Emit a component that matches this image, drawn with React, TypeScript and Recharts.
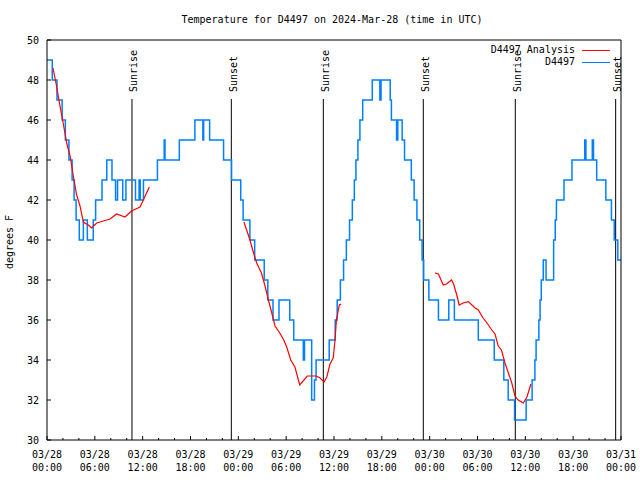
import React from 'react'
import { LineChart, Line, XAxis, YAxis, ReferenceLine } from 'recharts'

const FONT = '"DejaVu Sans Mono", "Liberation Mono", monospace'
const BLUE = '#0080ff'
const RED = '#ff0000'

// hours since 03/28 00:00 UTC, temperature in deg F
// observed readings (1 F resolution), listed where the value changes
const observed: [number, number][] = [
  [0, 49], [0.66, 48], [1.25, 47], [1.9, 46], [2.3, 45], [2.75, 44], [3.15, 43], [3.4, 42],
  [3.65, 41], [4.05, 40], [4.56, 41], [5.06, 40], [5.8, 41], [6.1, 42], [6.9, 43], [7.5, 44],
  [8.15, 43], [8.6, 42], [8.85, 43], [9.5, 42], [9.9, 43], [11.1, 42], [11.55, 43], [11.7, 42],
  [12.1, 43], [13.85, 44], [14.7, 45], [14.8, 44], [16.6, 45], [18.55, 46], [19.55, 45], [19.65, 46],
  [20.4, 45], [22.15, 44], [23.15, 43], [24.3, 42], [24.6, 41], [25.45, 40], [26.05, 39], [27.25, 38],
  [27.7, 37], [28.35, 36], [29.1, 37], [30.45, 36], [30.95, 35], [32.15, 34], [32.3, 35], [33.2, 32],
  [33.55, 33], [33.75, 34], [35.4, 35], [36.15, 36], [36.4, 37], [36.8, 38], [37.2, 39], [37.55, 40],
  [37.95, 41], [38.3, 42], [38.55, 43], [38.75, 44], [39.0, 45], [39.25, 46], [39.6, 47], [40.8, 48],
  [41.75, 47], [41.9, 48], [43.05, 47], [43.2, 46], [43.85, 45], [44.0, 46], [44.55, 45], [44.85, 44],
  [45.7, 43], [46.05, 42], [46.4, 41], [46.75, 40], [47.05, 39], [47.25, 38], [47.9, 37], [49.1, 36],
  [50.4, 37], [51.1, 36], [54.1, 35], [56.1, 34], [57.3, 33], [57.85, 32], [58.65, 31], [60.1, 32],
  [60.85, 33], [61.2, 34], [61.35, 35], [61.7, 36], [61.85, 37], [62.0, 38], [62.25, 39], [62.6, 38],
  [63.55, 40], [63.75, 41], [63.9, 42], [64.85, 43], [65.85, 44], [67.45, 45], [67.6, 44], [68.4, 45],
  [68.55, 44], [68.95, 43], [70.1, 42], [70.8, 41], [71.15, 40], [71.6, 39], [72, 39],
]

// analysis, three overnight pieces
const analysisNight1: [number, number][] = [
  [0.75, 48.6], [1.2, 47.7], [1.63, 46.7], [2.05, 45.8], [2.47, 44.85], [2.9, 44.2], [3.3, 43.2],
  [3.72, 42.25], [4.14, 41.7], [4.56, 40.9], [5.18, 40.75], [5.6, 40.6], [6.23, 40.85], [7.07, 40.95],
  [7.9, 41.05], [8.74, 41.3], [9.78, 41.15], [10.6, 41.45], [11.67, 41.65], [12.08, 42.0], [12.84, 42.65],
]
const analysisNight2: [number, number][] = [
  [24.7, 40.9], [25.46, 40.0], [25.8, 39.5], [26.3, 38.85], [26.9, 38.35], [27.35, 37.7], [27.8, 36.95],
  [28.2, 36.35], [28.6, 35.7], [29.2, 35.35], [29.7, 35.0], [30.07, 34.65], [30.57, 34.0], [31.1, 33.65],
  [31.7, 32.75], [32.65, 33.2], [33.8, 33.2], [34.25, 33.1], [34.75, 32.9], [35.1, 33.15], [35.5, 33.8],
  [35.9, 34.1], [36.13, 35.0], [36.3, 36.0], [36.67, 36.75], [36.9, 36.8],
]
const analysisNight3: [number, number][] = [
  [48.67, 38.35], [49.1, 38.3], [49.7, 37.75], [50.1, 37.8], [50.75, 38.0], [51.0, 37.8], [51.4, 37.25],
  [51.7, 36.75], [52.2, 36.85], [52.85, 36.92], [53.7, 36.6], [54.1, 36.5], [54.7, 36.1], [55.1, 35.9],
  [55.8, 35.5], [56.2, 35.3], [56.6, 34.7], [57.0, 34.5], [57.45, 33.85], [57.87, 33.35], [58.3, 32.85],
  [58.7, 32.2], [59.1, 32.0], [59.75, 31.85], [60.2, 32.15], [60.7, 32.8],
]

const sunriseHours = [10.66, 34.66, 58.74]
const sunsetHours = [23.12, 47.2, 71.33]

const xTicks = [0, 2, 4, 6, 8, 10, 12, 14, 16, 18, 20, 22, 24, 26, 28, 30, 32, 34, 36, 38, 40, 42, 44, 46, 48,
  50, 52, 54, 56, 58, 60, 62, 64, 66, 68, 70, 72]
const xTickLabels = [
  ['03/28', '00:00'], ['03/28', '06:00'], ['03/28', '12:00'], ['03/28', '18:00'],
  ['03/29', '00:00'], ['03/29', '06:00'], ['03/29', '12:00'], ['03/29', '18:00'],
  ['03/30', '00:00'], ['03/30', '06:00'], ['03/30', '12:00'], ['03/30', '18:00'],
  ['03/31', '00:00'],
]
const yTicks = [30, 32, 34, 36, 38, 40, 42, 44, 46, 48, 50]

const legendItems = [
  { name: 'D4497 Analysis', color: RED },
  { name: 'D4497', color: BLUE },
]

const observedData = observed.map(([h, v]) => ({ h, v }))
const analysisData = [
  ...analysisNight1.map(([h, v]) => ({ h, v })),
  { h: 13, v: null },
  ...analysisNight2.map(([h, v]) => ({ h, v })),
  { h: 37, v: null },
  ...analysisNight3.map(([h, v]) => ({ h, v })),
]

const txt = { fontFamily: FONT, fontSize: 10, fill: '#000' }

const BottomTick = (p: any) => {
  const h = p.payload.value
  const major = h % 6 === 0
  const lab = major ? xTickLabels[h / 6] : null
  return (
    <g>
      <line x1={p.x} x2={p.x} y1={p.y} y2={p.y - (major ? 4 : 2)} stroke="#000" />
      {lab && (
        <text x={p.x} y={p.y + 18} textAnchor="middle" {...txt}>{lab[0]}</text>
      )}
      {lab && (
        <text x={p.x} y={p.y + 31} textAnchor="middle" {...txt}>{lab[1]}</text>
      )}
    </g>
  )
}

const TopTick = (p: any) => {
  const major = p.payload.value % 6 === 0
  return <line x1={p.x} x2={p.x} y1={p.y} y2={p.y + (major ? 4 : 2)} stroke="#000" />
}

const LeftTick = (p: any) => (
  <g>
    <line x1={p.x} x2={p.x + 4} y1={p.y} y2={p.y} stroke="#000" />
    <text x={p.x - 8} y={p.y + 3.5} textAnchor="end" {...txt}>{p.payload.value}</text>
  </g>
)

const RightTick = (p: any) => (
  <line x1={p.x} x2={p.x - 4} y1={p.y} y2={p.y} stroke="#000" />
)

const sunShape = (label: string) => (p: any) => {
  const top = Math.min(p.y1, p.y2)
  const bottom = Math.max(p.y1, p.y2)
  return (
    <g>
      <line x1={p.x1} x2={p.x1} y1={top} y2={bottom} stroke="#000" strokeWidth={1} />
      <text transform={`translate(${p.x1 + 5.5},${top - 7}) rotate(-90)`} textAnchor="start" {...txt}>
        {label}
      </text>
    </g>
  )
}

export default function App() {
  return (
    <div style={{ position: 'absolute', left: 0, top: 0, width: 640, height: 480, background: '#fff' }}>
      <LineChart width={640} height={480} margin={{ top: 0, right: 0, bottom: 0, left: 0 }}>
        <XAxis xAxisId="b" dataKey="h" type="number" domain={[0, 72]} ticks={xTicks} interval={0}
          orientation="bottom" height={40} tickSize={0} tickMargin={0} tickLine={false}
          axisLine={{ stroke: '#000' }} tick={<BottomTick />} />
        <XAxis xAxisId="t" dataKey="h" type="number" domain={[0, 72]} ticks={xTicks} interval={0}
          orientation="top" height={40} tickSize={0} tickMargin={0} tickLine={false}
          axisLine={{ stroke: '#000' }} tick={<TopTick />} />
        <YAxis yAxisId="l" type="number" domain={[30, 50]} ticks={yTicks} interval={0}
          width={47} tickSize={0} tickMargin={0} tickLine={false}
          axisLine={{ stroke: '#000' }} tick={<LeftTick />} />
        <YAxis yAxisId="r" orientation="right" type="number" domain={[30, 50]} ticks={yTicks} interval={0}
          width={19} tickSize={0} tickMargin={0} tickLine={false}
          axisLine={{ stroke: '#000' }} tick={<RightTick />} />

        {sunriseHours.map((t) => (
          <ReferenceLine key={'r' + t} xAxisId="b" yAxisId="l"
            segment={[{ x: t, y: 47.05 }, { x: t, y: 30 }]} shape={sunShape('Sunrise')} />
        ))}
        {sunsetHours.map((t) => (
          <ReferenceLine key={'s' + t} xAxisId="b" yAxisId="l"
            segment={[{ x: t, y: 47.05 }, { x: t, y: 30 }]} shape={sunShape('Sunset')} />
        ))}

        <Line xAxisId="b" yAxisId="l" data={observedData} dataKey="v" type="stepAfter"
          stroke={BLUE} strokeWidth={1.5} dot={false} isAnimationActive={false} />
        <Line xAxisId="b" yAxisId="l" data={analysisData} dataKey="v" type="linear"
          stroke={RED} strokeWidth={1.2} dot={false} isAnimationActive={false} />
      </LineChart>

      <div style={{ position: 'absolute', left: 45, top: 14, width: 574, textAlign: 'center',
        fontFamily: FONT, fontSize: 10, lineHeight: '12px' }}>
        Temperature for D4497 on 2024-Mar-28 (time in UTC)
      </div>
      <div style={{ position: 'absolute', left: 10, top: 242, fontFamily: FONT, fontSize: 10,
        lineHeight: '12px', whiteSpace: 'nowrap', transform: 'translate(-50%, -50%) rotate(-90deg)' }}>
        degrees F
      </div>
      {legendItems.map((it, i) => (
        <div key={it.name} style={{ position: 'absolute', top: 44 + i * 12, left: 400, width: 210,
          display: 'flex', justifyContent: 'flex-end', alignItems: 'center', fontFamily: FONT,
          fontSize: 10, lineHeight: '12px' }}>
          <span>{it.name}</span>
          <span style={{ display: 'inline-block', width: 28, height: 0, marginLeft: 7,
            borderTop: `1.5px solid ${it.color}` }} />
        </div>
      ))}
    </div>
  )
}
